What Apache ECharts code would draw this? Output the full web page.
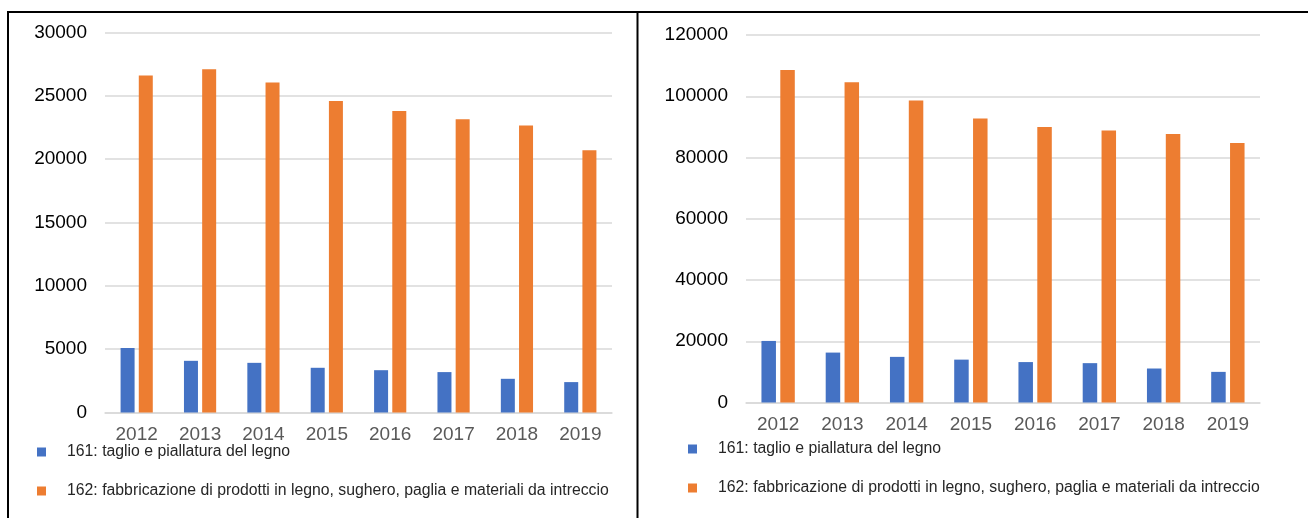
<!DOCTYPE html>
<html>
<head>
<meta charset="utf-8">
<style>
  html, body { margin: 0; padding: 0; background: #ffffff; }
  #chart { width: 1308px; height: 518px; }
</style>
<script src="https://cdn.jsdelivr.net/npm/echarts@6/dist/echarts.min.js"></script>
</head>
<body>
<div id="chart"></div>
<script>
// Anni
const years = ['2012', '2013', '2014', '2015', '2016', '2017', '2018', '2019'];

// Nomi delle serie (codici ATECO)
const nameTaglio = '161: taglio e piallatura del legno';
const nameFabbricazione = '162: fabbricazione di prodotti in legno, sughero, paglia e materiali da intreccio';

// Grafico di sinistra
const leftTaglio = [5100, 4080, 3920, 3530, 3340, 3190, 2660, 2400];
const leftFabbricazione = [26600, 27100, 26050, 24600, 23800, 23150, 22650, 20700];

// Grafico di destra
const rightTaglio = [20100, 16300, 14900, 14000, 13200, 12850, 11100, 10000];
const rightFabbricazione = [108600, 104600, 98600, 92700, 90000, 88800, 87700, 84700];

const FONT = '"Liberation Sans", Arial, sans-serif';
const BLUE = '#4472C4';
const ORANGE = '#ED7D31';
const GRID_GRAY = '#d9d9d9';

function xAxisFor(gridIndex) {
  return {
    type: 'category',
    gridIndex: gridIndex,
    data: years,
    axisLine: { show: true, lineStyle: { color: GRID_GRAY, width: 1.5 } },
    axisTick: { show: false },
    axisLabel: { color: '#595959', fontFamily: FONT, fontSize: 19, margin: 13 }
  };
}

function yAxisFor(gridIndex, max, interval) {
  return {
    type: 'value',
    gridIndex: gridIndex,
    min: 0,
    max: max,
    interval: interval,
    axisLine: { show: false },
    axisTick: { show: false },
    splitLine: { show: true, lineStyle: { color: GRID_GRAY, width: 1.5 } },
    axisLabel: {
      color: '#000000', fontFamily: FONT, fontSize: 19, margin: 18,
      formatter: function (v) { return String(v); }
    }
  };
}

function barSeries(name, data, color, axisIndex, width) {
  return {
    type: 'bar',
    name: name,
    data: data,
    xAxisIndex: axisIndex,
    yAxisIndex: axisIndex,
    barWidth: width,
    barGap: '30%',
    itemStyle: { color: color },
    emphasis: { disabled: true }
  };
}

function legendFor(left, top) {
  return {
    orient: 'vertical',
    left: left,
    top: top,
    padding: 0,
    icon: 'rect',
    itemWidth: 9,
    itemHeight: 9,
    itemGap: 19,
    data: [nameTaglio, nameFabbricazione],
    textStyle: {
      color: '#262626',
      fontFamily: FONT,
      fontSize: 15.8,
      lineHeight: 20,
      padding: [0, 0, 0, 16]
    },
    selectedMode: false
  };
}

const chart = echarts.init(document.getElementById('chart'), null, { renderer: 'canvas' });

chart.setOption({
  animation: false,
  backgroundColor: '#ffffff',
  grid: [
    { left: 105, right: 696, top: 32.5, bottom: 105.5 },
    { left: 746, right: 48, top: 35, bottom: 115.5 }
  ],
  xAxis: [xAxisFor(0), xAxisFor(1)],
  yAxis: [yAxisFor(0, 30000, 5000), yAxisFor(1, 120000, 20000)],
  legend: [legendFor(37, 442), legendFor(688, 439)],
  series: [
    barSeries(nameTaglio, leftTaglio, BLUE, 0, 14),
    barSeries(nameFabbricazione, leftFabbricazione, ORANGE, 0, 14),
    barSeries(nameTaglio, rightTaglio, BLUE, 1, 14.5),
    barSeries(nameFabbricazione, rightFabbricazione, ORANGE, 1, 14.5)
  ],
  graphic: [
    // cornice della tabella
    { type: 'line', shape: { x1: 8, y1: 12, x2: 1308, y2: 12 }, style: { stroke: '#000', lineWidth: 2 }, silent: true },
    { type: 'line', shape: { x1: 8, y1: 11, x2: 8, y2: 518 }, style: { stroke: '#000', lineWidth: 2 }, silent: true },
    { type: 'line', shape: { x1: 637.5, y1: 11, x2: 637.5, y2: 518 }, style: { stroke: '#000', lineWidth: 2 }, silent: true }
  ]
});
</script>
</body>
</html>
